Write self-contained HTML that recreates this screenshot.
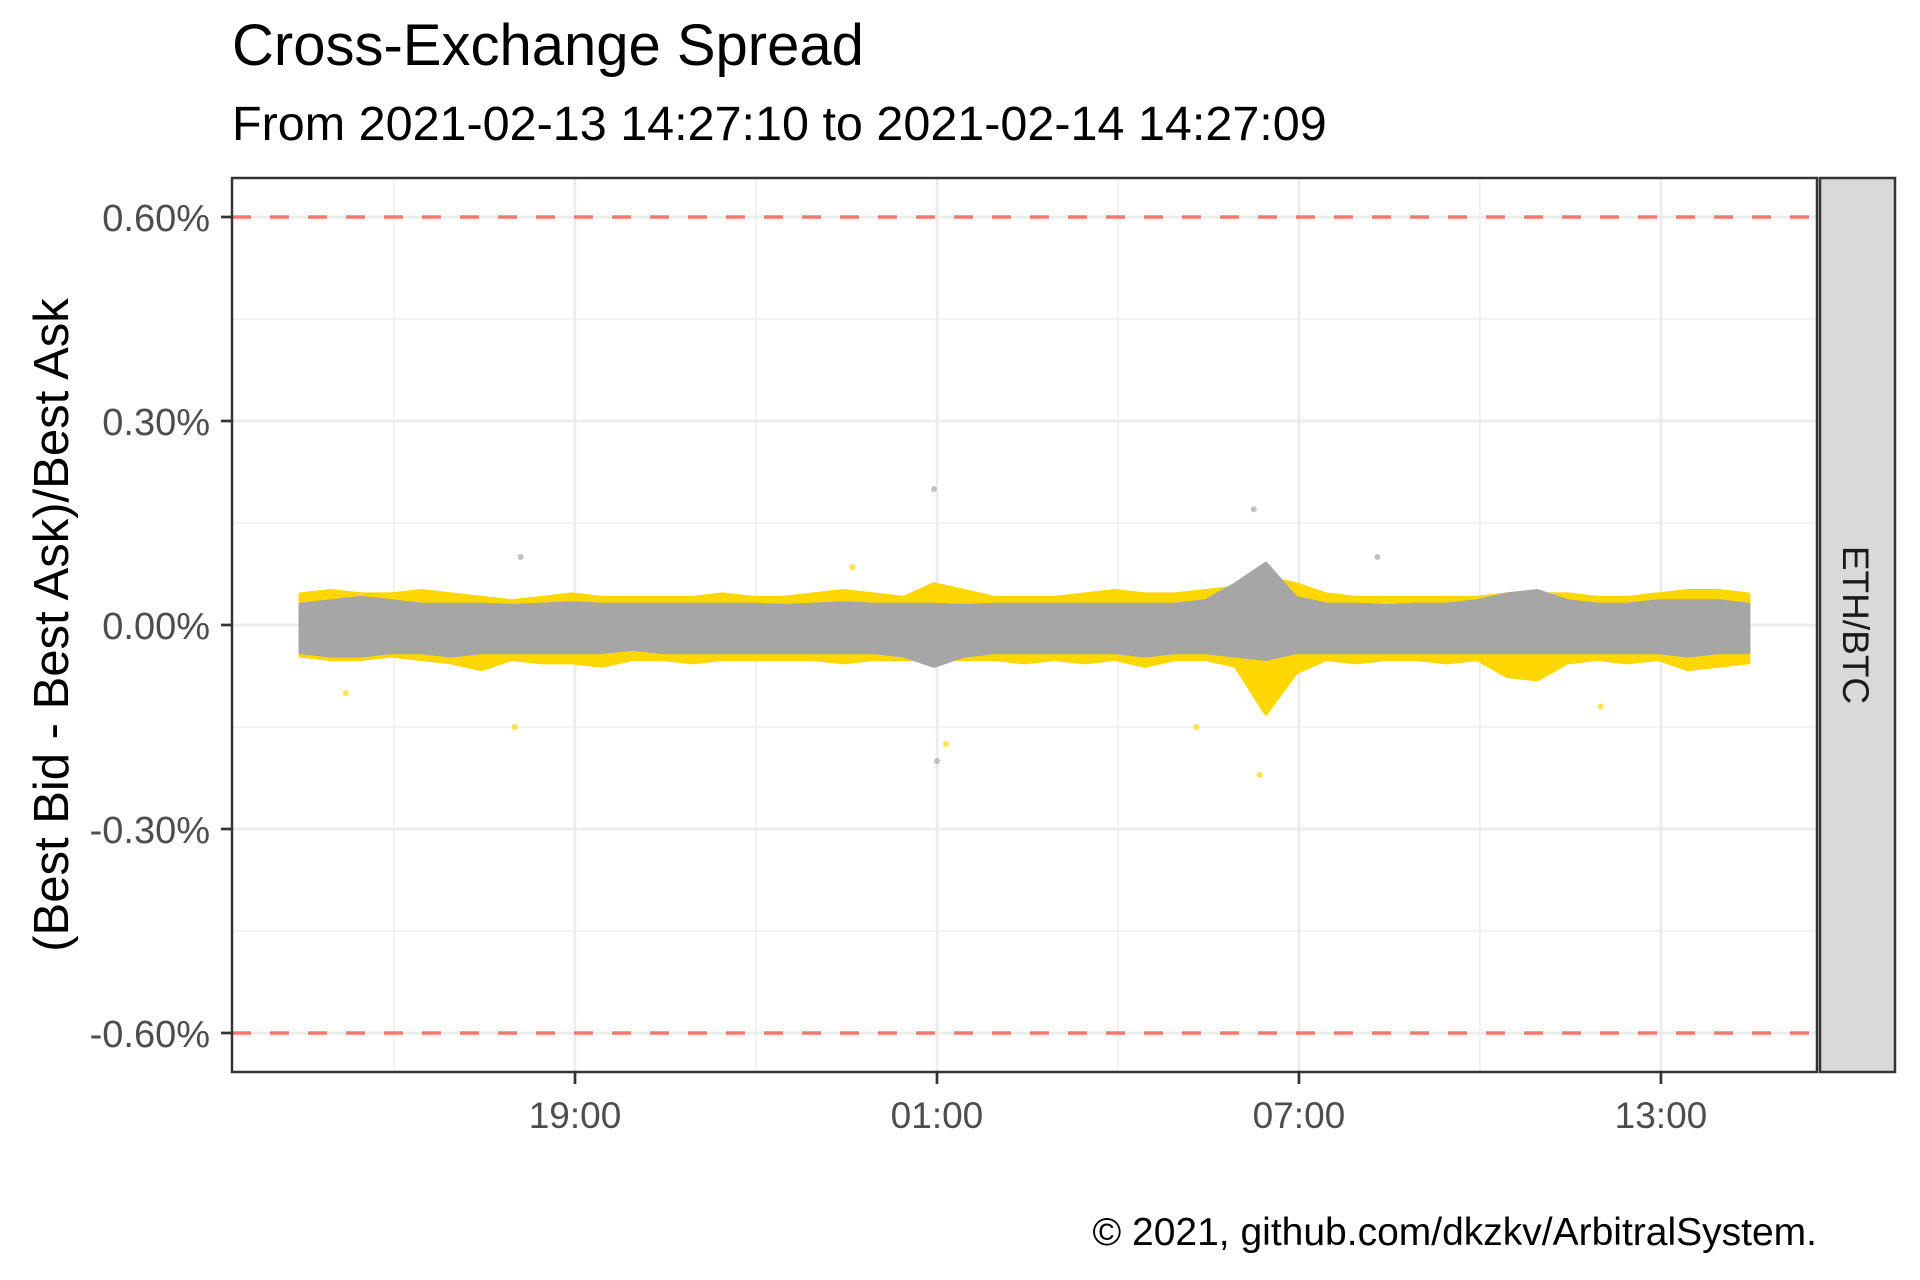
<!DOCTYPE html>
<html><head><meta charset="utf-8"><style>
html,body{margin:0;padding:0;background:#fff;}
svg{display:block;font-family:"Liberation Sans",Arial,sans-serif;}
</style></head><body>
<svg id="chart" width="1920" height="1280" viewBox="0 0 1920 1280">
<text x="232" y="65" font-size="58" fill="#000">Cross-Exchange Spread</text>
<text x="232" y="140" font-size="48.5" fill="#000">From 2021-02-13 14:27:10 to 2021-02-14 14:27:09</text>
<text transform="translate(68,625) rotate(-90)" text-anchor="middle" font-size="49" fill="#000">(Best Bid - Best Ask)/Best Ask</text>
<text x="1817" y="1245" text-anchor="end" font-size="39" fill="#000">© 2021, github.com/dkzkv/ArbitralSystem.</text>
<g id="grid"></g>
<g id="marks"></g>
<g id="frame"></g>
</svg>
<script>
// hours since 2021-02-13 14:00
const times = [0.45,0.95,1.45,1.95,2.45,2.95,3.45,3.95,4.45,4.95,5.45,5.95,6.45,6.95,7.45,7.95,8.45,8.95,9.45,9.95,10.45,10.95,11.45,11.95,12.45,12.95,13.45,13.95,14.45,14.95,15.45,15.95,16.45,16.95,17.45,17.95,18.45,18.95,19.45,19.95,20.45,20.95,21.45,21.95,22.45,22.95,23.45,23.95,24.45];
const grayHi = [0.03,0.035,0.04,0.035,0.03,0.03,0.03,0.028,0.03,0.032,0.03,0.03,0.03,0.03,0.03,0.03,0.028,0.03,0.032,0.03,0.03,0.03,0.028,0.03,0.03,0.03,0.03,0.03,0.03,0.03,0.035,0.06,0.09,0.04,0.03,0.03,0.028,0.03,0.03,0.035,0.045,0.05,0.035,0.03,0.03,0.035,0.035,0.035,0.03];
const grayLo = [-0.04,-0.045,-0.045,-0.04,-0.04,-0.045,-0.04,-0.04,-0.04,-0.04,-0.04,-0.035,-0.04,-0.04,-0.04,-0.04,-0.04,-0.04,-0.04,-0.04,-0.045,-0.06,-0.045,-0.04,-0.04,-0.04,-0.04,-0.04,-0.045,-0.04,-0.04,-0.045,-0.05,-0.04,-0.04,-0.04,-0.04,-0.04,-0.04,-0.04,-0.04,-0.04,-0.04,-0.04,-0.04,-0.04,-0.045,-0.04,-0.04];
const yellowHi = [0.045,0.05,0.045,0.045,0.05,0.045,0.04,0.035,0.04,0.045,0.04,0.04,0.04,0.04,0.045,0.04,0.04,0.045,0.05,0.045,0.04,0.06,0.05,0.04,0.04,0.04,0.045,0.05,0.045,0.045,0.05,0.055,0.07,0.06,0.045,0.04,0.04,0.04,0.04,0.04,0.045,0.045,0.045,0.04,0.04,0.045,0.05,0.05,0.045];
const yellowLo = [-0.045,-0.05,-0.05,-0.045,-0.05,-0.055,-0.065,-0.05,-0.055,-0.055,-0.06,-0.05,-0.05,-0.055,-0.05,-0.05,-0.05,-0.05,-0.055,-0.05,-0.05,-0.05,-0.05,-0.05,-0.055,-0.05,-0.055,-0.05,-0.06,-0.05,-0.05,-0.06,-0.13,-0.07,-0.05,-0.055,-0.05,-0.05,-0.055,-0.05,-0.075,-0.08,-0.055,-0.05,-0.055,-0.05,-0.065,-0.06,-0.055];
const outT = [1.2,4.0,10.95,11.0,11.15,15.3,16.25,16.35,18.3,4.1,9.6,22.0];
const outV = [-0.1,-0.15,0.2,-0.2,-0.175,-0.15,0.17,-0.22,0.1,0.10,0.085,-0.12];
const outC = ['y','y','g','g','y','y','g','y','g','g','y','y'];
const yTicks = [0.6,0.3,0,-0.3,-0.6];
const yTickLabels = ['0.60%','0.30%','0.00%','-0.30%','-0.60%'];
const yMinor = [0.45,0.15,-0.15,-0.45];
const xTicks = [5,11,17,23];
const xTickLabels = ['19:00','01:00','07:00','13:00'];
const xMinor = [2,8,14,20];
const hlines = [0.6,-0.6];

const L=232,R=1817,T=178,B=1072;
const X = h => 575 + (h-5)*60.33;
const Y = v => 625 - v*680;
const NS='http://www.w3.org/2000/svg';
function mk(parent,tag,attrs){const e=document.createElementNS(NS,tag);for(const k in attrs)e.setAttribute(k,attrs[k]);parent.appendChild(e);return e;}
const grid=document.getElementById('grid'),marks=document.getElementById('marks'),frame=document.getElementById('frame');
mk(grid,'rect',{x:L,y:T,width:R-L,height:B-T,fill:'#fff'});
yMinor.forEach(v=>{const e=mk(grid,'line',{x1:L,x2:R,y1:Y(v),y2:Y(v),stroke:'#ebebeb','stroke-width':1.3});

});
xMinor.forEach(h=>{const e=mk(grid,'line',{x1:X(h),x2:X(h),y1:T,y2:B,stroke:'#ebebeb','stroke-width':1.3});

});
yTicks.forEach((v,i)=>{const e=mk(grid,'line',{x1:L,x2:R,y1:Y(v),y2:Y(v),stroke:'#ebebeb','stroke-width':2.7});


mk(frame,'line',{x1:L-11,x2:L,y1:Y(v),y2:Y(v),stroke:'#333','stroke-width':2.7});
const t=mk(frame,'text',{x:L-22,y:Y(v)+14,'text-anchor':'end','font-size':38,fill:'#4d4d4d'});t.textContent=yTickLabels[i];

});
xTicks.forEach((h,i)=>{const e=mk(grid,'line',{x1:X(h),x2:X(h),y1:T,y2:B,stroke:'#ebebeb','stroke-width':2.7});


mk(frame,'line',{x1:X(h),x2:X(h),y1:B,y2:B+12,stroke:'#333','stroke-width':2.7});
const t=mk(frame,'text',{x:X(h),y:B+56,'text-anchor':'middle','font-size':37,fill:'#4d4d4d'});t.textContent=xTickLabels[i];

});
function band(hi,lo,color,name){
 let d='M'+times.map((t,i)=>X(t).toFixed(1)+','+Y(hi[i]).toFixed(1)).join('L');
 d+='L'+times.slice().reverse().map((t,j)=>{const i=times.length-1-j;return X(t).toFixed(1)+','+Y(lo[i]).toFixed(1);}).join('L')+'Z';
 const p=mk(marks,'path',{d:d,fill:color,stroke:color,'stroke-width':4,'stroke-linejoin':'round'});
 
 
}
band(yellowHi,yellowLo,'#FFD700','yellow-series-band');
band(grayHi,grayLo,'#A6A6A6','gray-series-band');
outT.forEach((t,i)=>{const c=mk(marks,'circle',{cx:X(t),cy:Y(outV[i]),r:3,fill:outC[i]==='y'?'#FFD700':'#A6A6A6','fill-opacity':0.7});

});
hlines.forEach(v=>{const e=mk(marks,'line',{x1:L,x2:R,y1:Y(v),y2:Y(v),stroke:'#F8766D','stroke-width':3.5,'stroke-dasharray':'19 19'});

});
const pb=mk(frame,'rect',{x:L,y:T,width:R-L,height:B-T,fill:'none',stroke:'#333','stroke-width':2.5});


const st=mk(frame,'rect',{x:1820,y:T,width:75,height:B-T,fill:'#d9d9d9',stroke:'#333','stroke-width':2.5});


const stt=mk(frame,'text',{transform:'translate(1843,625) rotate(90)','text-anchor':'middle','font-size':37,fill:'#1a1a1a'});stt.textContent='ETH/BTC';


</script>
</body></html>
